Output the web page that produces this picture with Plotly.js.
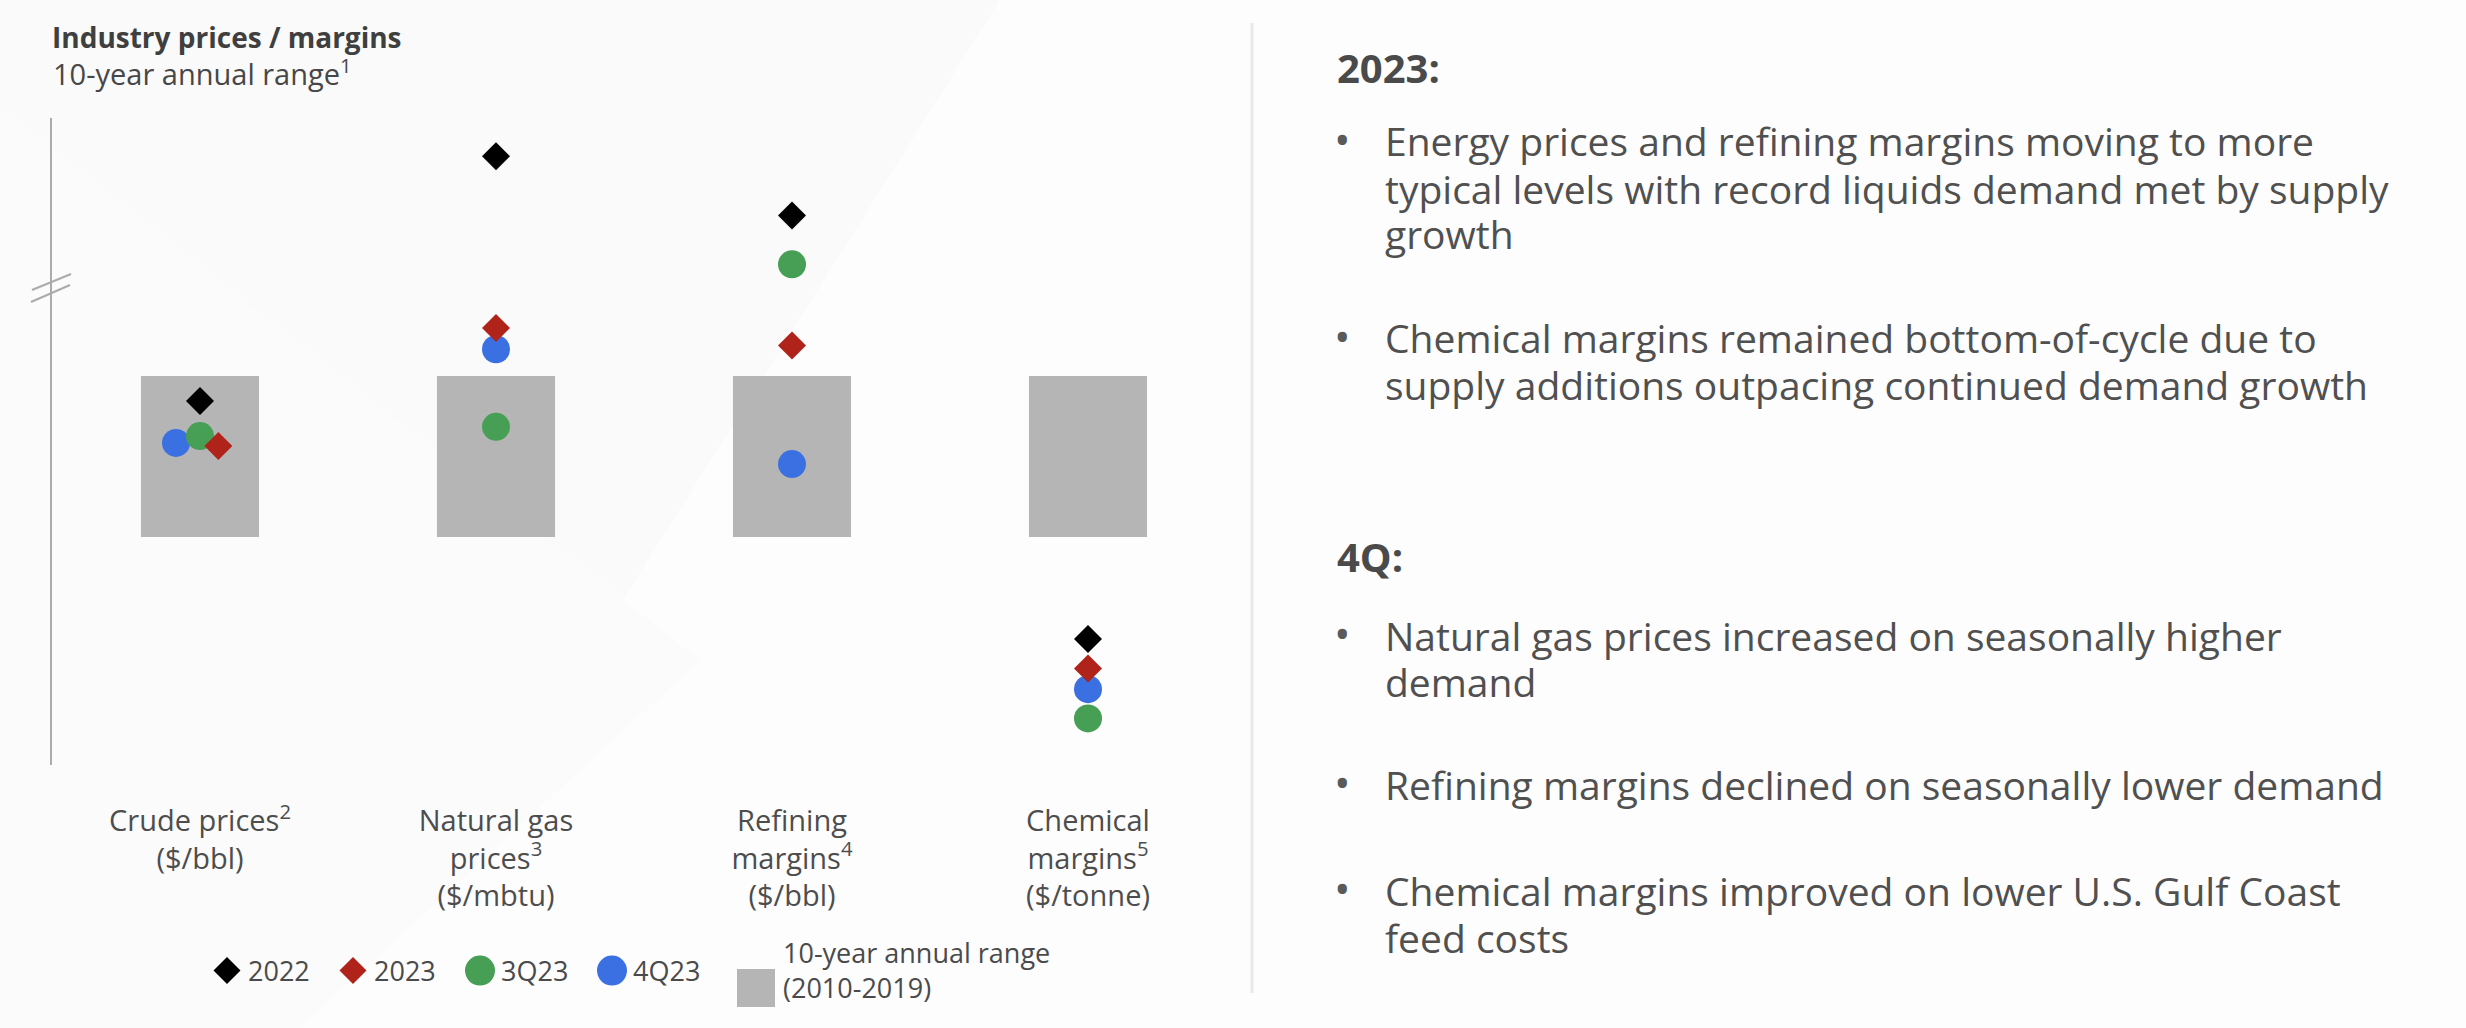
<!DOCTYPE html>
<html>
<head>
<meta charset="utf-8">
<script src="https://cdn.plot.ly/plotly-3.0.1.min.js"></script>
<style>
html, body { margin: 0; padding: 0; background: #fdfdfd; }
#chart { width: 2466px; height: 1028px; }
</style>
</head>
<body>
<div id="chart"></div>
<script>
// ---------------- DATA ----------------
// Categories (x tick labels)
const categories = [
  'Crude prices<sup>2</sup><br>($/bbl)',
  'Natural gas<br>prices<sup>3</sup><br>($/mbtu)',
  'Refining<br>margins<sup>4</sup><br>($/bbl)',
  'Chemical<br>margins<sup>5</sup><br>($/tonne)'
];
// 10-year annual range (2010-2019), normalised: bottom = 0, top = 100
const rangeLow  = [0, 0, 0, 0];
const rangeHigh = [100, 100, 100, 100];
// Position of each period relative to that range (same normalised scale)
const val2022 = [84.5, 236.5, 199.7, -63.4];
const val2023 = [56.5, 129.8, 118.9, -81.7];
const val3Q23 = [62.7, 68.4, 169.3, -112.7];
const val4Q23 = [58.4, 116.6, 45.3, -94.5];
const seriesNames = ['2022', '2023', '3Q23', '4Q23'];
const rangeName = '10-year annual range<br>(2010-2019)';

// ---------------- STYLE ----------------
const COLORS = { '2022': '#000000', '2023': '#b0231a', '3Q23': '#479f55', '4Q23': '#3b70e3', range: '#b5b5b5' };
const SYMBOLS = { '2022': 'diamond', '2023': 'diamond', '3Q23': 'circle', '4Q23': 'circle' };
const SIZES = { diamond: 21.5, circle: 28 };
// legend entry widths (px)
const LEGEND_W = { '2022': 79, '2023': 80, '3Q23': 85, '4Q23': 103 };
// horizontal nudge for overlapping markers in the first (crude) category only
const CRUDE_NUDGE = { '2022': 0, '2023': 0.062, '3Q23': 0, '4Q23': -0.081 };
const FONT = 'Open Sans, Noto Sans, sans-serif';
const TEXT = '#505050';

const xIdx = categories.map((_, i) => i);
const values = { '2022': val2022, '2023': val2023, '3Q23': val3Q23, '4Q23': val4Q23 };

function markerTrace(name, rank) {
  return {
    type: 'scatter', mode: 'markers', name: name, legendrank: rank, legendwidth: LEGEND_W[name],
    x: xIdx.map(i => i + (i === 0 ? CRUDE_NUDGE[name] : 0)),
    y: values[name],
    marker: { color: COLORS[name], symbol: SYMBOLS[name], size: SIZES[SYMBOLS[name]], line: { width: 0 } },
    hoverinfo: 'skip', cliponaxis: false
  };
}

const data = [
  {
    type: 'bar', name: rangeName, legendrank: 5,
    x: xIdx, base: rangeLow, y: rangeHigh.map((h, i) => h - rangeLow[i]),
    width: 0.399, marker: { color: COLORS.range, line: { width: 0 } },
    hoverinfo: 'skip'
  },
  markerTrace('2022', 1),
  markerTrace('4Q23', 4),
  markerTrace('3Q23', 3),
  markerTrace('2023', 2)
];

const W = 2466, H = 1028;
const px = x => x / W;
const py = y => 1 - y / H;

function txt(text, x, y, size, opts) {
  return Object.assign({
    text: text, xref: 'paper', yref: 'paper', x: px(x), y: py(y),
    xanchor: 'left', yanchor: 'middle', showarrow: false,
    font: { family: FONT, size: size, color: TEXT }
  }, opts || {});
}

const BODY = 39;
const rightLines = [
  ['<b>2023:</b>', 1335, 68, 40, '#4a4a4a'],
  ['Energy prices and refining margins moving to more', 1383, 141, BODY],
  ['typical levels with record liquids demand met by supply', 1383, 188, BODY],
  ['growth', 1383, 234, BODY],
  ['Chemical margins remained bottom-of-cycle due to', 1383, 338, BODY],
  ['supply additions outpacing continued demand growth', 1383, 384, BODY],
  ['<b>4Q:</b>', 1335, 556, 40, '#4a4a4a'],
  ['Natural gas prices increased on seasonally higher', 1383, 635, BODY],
  ['demand', 1383, 681, BODY],
  ['Refining margins declined on seasonally lower demand', 1383, 784, BODY],
  ['Chemical margins improved on lower U.S. Gulf Coast', 1383, 890, BODY],
  ['feed costs', 1383, 937, BODY]
];
const bulletYs = [141, 338, 635, 784, 890];

const annotations = [
  txt('10-year annual range<sup>1</sup>', 51, 72, 29, { font: { family: FONT, size: 29, color: '#474747' } })
];
rightLines.forEach(l => annotations.push(txt(l[0], l[1], l[2], l[3], l[4] ? { font: { family: FONT, size: l[3], color: l[4] } } : null)));
bulletYs.forEach(y => annotations.push(txt('•', 1342, y - 2, 44, { xanchor: 'center', font: { family: FONT, size: 44, color: '#5a5a5a' } })));

const shapes = [
  // faint background facets
  { type: 'path', xref: 'paper', yref: 'paper', layer: 'below',
    path: `M0,1 L${px(1000)},1 L${px(560)},${py(700)} L0,${py(110)} Z`,
    fillcolor: '#fafafa', line: { width: 0 } },
  { type: 'path', xref: 'paper', yref: 'paper', layer: 'below',
    path: `M0,${py(110)} L${px(700)},${py(660)} L${px(300)},${py(1028)} L0,0 Z`,
    fillcolor: '#fbfbfb', line: { width: 0 } },
  // axis break marks
  { type: 'line', xref: 'paper', yref: 'paper', x0: px(32), y0: py(290), x1: px(71), y1: py(274), line: { color: '#ababab', width: 2 } },
  { type: 'line', xref: 'paper', yref: 'paper', x0: px(31), y0: py(302), x1: px(70), y1: py(285), line: { color: '#ababab', width: 2 } },
  // panel divider
  { type: 'line', xref: 'paper', yref: 'paper', x0: px(1252), x1: px(1252), y0: py(23), y1: py(993), line: { color: '#e8e8e8', width: 3 } }
];

const layout = {
  width: W, height: H,
  margin: { l: 0, r: 0, t: 0, b: 0, pad: 0 },
  paper_bgcolor: '#fdfdfd', plot_bgcolor: 'rgba(0,0,0,0)',
  font: { family: FONT, color: TEXT },
  title: {
    text: '<b>Industry prices / margins</b>',
    x: px(52), xref: 'paper', xanchor: 'left',
    y: py(38), yref: 'container', yanchor: 'middle',
    font: { family: FONT, size: 28, color: '#3f3f3f' }
  },
  showlegend: true,
  legend: {
    orientation: 'h', x: px(206), xanchor: 'left', y: py(970), yanchor: 'middle',
    font: { family: FONT, size: 27, color: '#4a4a4a' },
    itemwidth: 32, bgcolor: 'rgba(0,0,0,0)', borderwidth: 0, traceorder: 'normal'
  },
  xaxis: {
    domain: [px(52), px(1236)], range: [-0.5, 3.5],
    tickvals: xIdx, ticktext: categories,
    ticks: 'outside', ticklen: 30, tickcolor: 'rgba(0,0,0,0)',
    tickfont: { family: FONT, size: 29, color: '#4d4d4d' },
    showgrid: false, zeroline: false, showline: false, fixedrange: true
  },
  yaxis: {
    domain: [1 - 765 / H, 1 - 118 / H], range: [-141.6, 260.2],
    showline: true, linecolor: '#ababab', linewidth: 2,
    showgrid: false, zeroline: false, showticklabels: false, ticks: '', fixedrange: true
  },
  annotations: annotations,
  shapes: shapes
};

Plotly.newPlot('chart', data, layout, { staticPlot: true }).then(gd => {
  const SHIFT = 18.5;
  // let legend content extend past its box
  gd.querySelectorAll('.legend [clip-path]').forEach(el => el.removeAttribute('clip-path'));
  // enlarge legend symbols to match chart marker sizes; centre the
  // two-line range label on the row of symbols
  gd.querySelectorAll('.legend .traces').forEach(tr => {
    const d = tr.__data__;
    const trace = d && d[0] && d[0].trace;
    if (!trace) return;
    const isBar = trace.type === 'bar';
    const target = isBar ? 38 : (trace.marker.symbol === 'diamond' ? 27 : 30);
    tr.querySelectorAll('.legendpoints path').forEach(p => {
      const bb = p.getBBox();
      if (!bb.width) return;
      const k = target / bb.width;
      const t = p.getAttribute('transform') || '';
      p.setAttribute('transform', t + ' scale(' + k + ')');
    });
    if (isBar) {
      const lp = tr.querySelector('.legendpoints');
      if (lp) lp.setAttribute('transform', (lp.getAttribute('transform') || '') + ' translate(-6,' + SHIFT + ')');
    } else {
      const t = tr.getAttribute('transform') || '';
      tr.setAttribute('transform', t + ' translate(0,' + SHIFT + ')');
    }
  });
});
</script>
</body>
</html>
